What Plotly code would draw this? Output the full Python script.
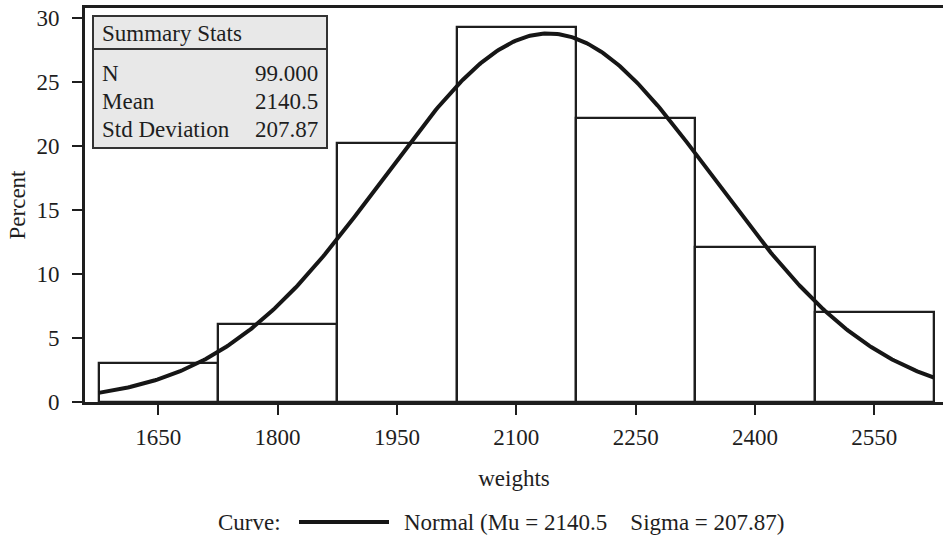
import numpy as np
import plotly.graph_objects as go

# Histogram of weights (percent of observations per 150-unit bin)
bin_centers = [1650, 1800, 1950, 2100, 2250, 2400, 2550]
percent = [3.03, 6.06, 20.20, 29.29, 22.22, 12.12, 7.07]
bin_width = 150

# Fitted normal parameters and summary statistics
n_obs = 99.000
mu = 2140.5
sigma = 207.87

x_ticks = [1650, 1800, 1950, 2100, 2250, 2400, 2550]
y_ticks = [0, 5, 10, 15, 20, 25, 30]

stat_labels = ["N", "Mean", "Std Deviation"]
stat_values = ["99.000", "2140.5", "207.87"]

FONT = "Liberation Serif"
INK = "#1e1e1e"
FS = 23

# Normal density scaled to percent per bin
lo = bin_centers[0] - bin_width / 2
hi = bin_centers[-1] + bin_width / 2
xs = np.linspace(lo, hi, 400)
ys = 100 * bin_width * np.exp(-0.5 * ((xs - mu) / sigma) ** 2) / (sigma * np.sqrt(2 * np.pi))

W, H = 943, 538
ML, MR, MT, MB = 85, 0, 8, 136
PW, PH = W - ML - MR, H - MT - MB


def px(x):
    return (x - ML) / PW


def py(y):
    return (H - MB - y) / PH


fig = go.Figure()
fig.add_trace(go.Bar(
    x=bin_centers, y=percent, width=bin_width,
    marker=dict(color="white", line=dict(color=INK, width=2.3)),
    showlegend=False, hoverinfo="x+y",
))
fig.add_trace(go.Scatter(
    x=xs, y=ys, mode="lines",
    line=dict(color="#161616", width=4),
    name=f"Normal (Mu = {mu}    Sigma = {sigma})", showlegend=False,
))

shapes = []
annotations = []

# Summary statistics inset
bx0, bx1, by0, by1, bh = 93, 327, 16, 148, 49
shapes.append(dict(type="rect", xref="paper", yref="paper",
                   x0=px(bx0), x1=px(bx1), y0=py(by1), y1=py(by0),
                   fillcolor="#e8e8e8", line=dict(color="#333333", width=2), layer="above"))
shapes.append(dict(type="line", xref="paper", yref="paper",
                   x0=px(bx0), x1=px(bx1), y0=py(bh), y1=py(bh),
                   line=dict(color="#333333", width=2), layer="above"))
annotations.append(dict(text="Summary Stats", xref="paper", yref="paper",
                        x=px(100), y=py(33), xanchor="left", yanchor="middle",
                        showarrow=False, font=dict(family=FONT, size=FS, color=INK)))
row_y = [73, 101, 129]
for lab, val, yy in zip(stat_labels, stat_values, row_y):
    annotations.append(dict(text=lab, xref="paper", yref="paper",
                            x=px(100), y=py(yy), xanchor="left", yanchor="middle",
                            showarrow=False, font=dict(family=FONT, size=FS, color=INK)))
    annotations.append(dict(text=val, xref="paper", yref="paper",
                            x=px(320), y=py(yy), xanchor="right", yanchor="middle",
                            showarrow=False, font=dict(family=FONT, size=FS, color=INK)))

# Curve key below the axis
ky = 522
annotations.append(dict(text="Curve:", xref="paper", yref="paper",
                        x=px(283), y=py(ky), xanchor="right", yanchor="middle",
                        showarrow=False, font=dict(family=FONT, size=FS, color=INK)))
shapes.append(dict(type="line", xref="paper", yref="paper",
                   x0=px(299), x1=px(389), y0=py(ky), y1=py(ky),
                   line=dict(color="#161616", width=4)))
annotations.append(dict(text=f"Normal (Mu = {mu}    Sigma = {sigma})", xref="paper", yref="paper",
                        x=px(402), y=py(ky), xanchor="left", yanchor="middle",
                        showarrow=False, font=dict(family=FONT, size=FS, color=INK)))

fig.update_layout(
    width=W, height=H,
    margin=dict(l=ML, r=MR, t=MT, b=MB, pad=0),
    paper_bgcolor="white", plot_bgcolor="white",
    bargap=0,
    font=dict(family=FONT, size=FS, color=INK),
    shapes=shapes, annotations=annotations,
    xaxis=dict(
        range=[1557.9, 2636.3], tickvals=x_ticks, ticktext=[str(t) for t in x_ticks],
        ticks="outside", ticklen=10, tickwidth=2, tickcolor=INK,
        showline=True, linecolor=INK, linewidth=3, mirror=True,
        showgrid=False, zeroline=False, ticklabelstandoff=2,
        title=dict(text="weights", standoff=22, font=dict(family=FONT, size=FS, color=INK)),
    ),
    yaxis=dict(
        range=[0, 30.78], tickvals=y_ticks,
        ticks="outside", ticklen=10, tickwidth=2, tickcolor=INK,
        showline=True, linecolor=INK, linewidth=3,
        showgrid=False, zeroline=False, ticklabelstandoff=8,
        title=dict(text="Percent", standoff=5, font=dict(family=FONT, size=FS, color=INK)),
    ),
)

fig.write_html("out.html")
